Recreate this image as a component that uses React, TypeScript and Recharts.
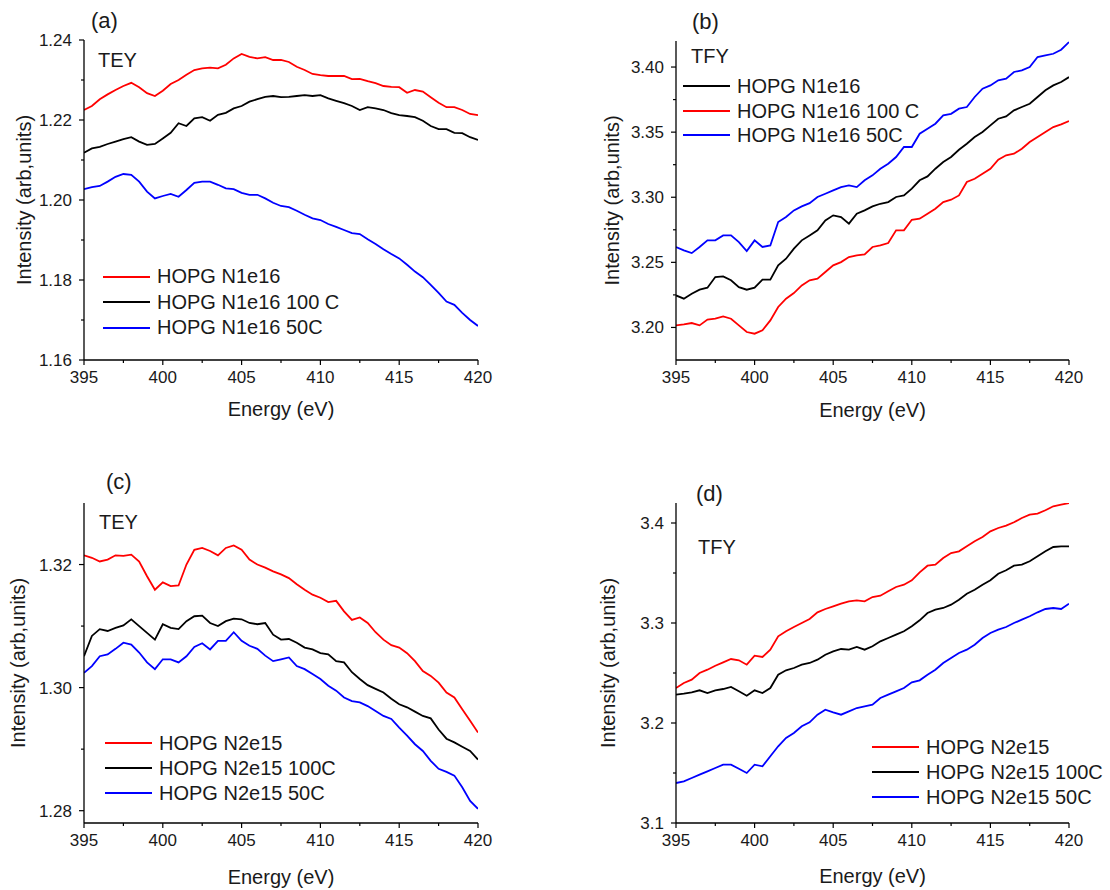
import React from 'react';
import { LineChart, Line, XAxis, YAxis, Legend } from 'recharts';

const ENERGY = [395, 395.5, 396, 396.5, 397, 397.5, 398, 398.5, 399, 399.5, 400, 400.5, 401, 401.5, 402, 402.5, 403, 403.5, 404, 404.5, 405, 405.5, 406, 406.5, 407, 407.5, 408, 408.5, 409, 409.5, 410, 410.5, 411, 411.5, 412, 412.5, 413, 413.5, 414, 414.5, 415, 415.5, 416, 416.5, 417, 417.5, 418, 418.5, 419, 419.5, 420];

const X_MAJOR = [395, 400, 405, 410, 415, 420];
const X_MINOR = [397.5, 402.5, 407.5, 412.5, 417.5];

// Panel (a) TEY, N1e16
const A_N1E16 = [1.2225, 1.2235, 1.2252, 1.2264, 1.2275, 1.2285, 1.2293, 1.2282, 1.2267, 1.226, 1.2273, 1.229, 1.23, 1.2313, 1.2325, 1.2329, 1.2331, 1.2329, 1.2338, 1.2354, 1.2365, 1.2358, 1.2354, 1.2357, 1.235, 1.235, 1.2345, 1.2333, 1.2325, 1.2315, 1.2312, 1.231, 1.231, 1.231, 1.2302, 1.2303, 1.2297, 1.2292, 1.2285, 1.2283, 1.2282, 1.2268, 1.2275, 1.2271, 1.2257, 1.2243, 1.2232, 1.2232, 1.2225, 1.2215, 1.2212];
const A_N1E16_100C = [1.2118, 1.2129, 1.2133, 1.214, 1.2146, 1.2152, 1.2157, 1.2146, 1.2138, 1.214, 1.2154, 1.2168, 1.2192, 1.2185, 1.2204, 1.2207, 1.2198, 1.2213, 1.2218, 1.2229, 1.2235, 1.2246, 1.2252, 1.2258, 1.226, 1.2257, 1.2258, 1.226, 1.2262, 1.226, 1.2262, 1.2254, 1.2248, 1.2242, 1.2235, 1.2225, 1.2232, 1.2229, 1.2225, 1.2217, 1.2212, 1.221, 1.2207, 1.2198, 1.2185, 1.2177, 1.2177, 1.2168, 1.2167, 1.2157, 1.215];
const A_N1E16_50C = [1.2027, 1.2032, 1.2035, 1.2046, 1.2058, 1.2065, 1.2063, 1.2046, 1.2021, 1.2004, 1.201, 1.2015, 1.2008, 1.2025, 1.2043, 1.2046, 1.2046, 1.2038, 1.2029, 1.2027, 1.2018, 1.2013, 1.2013, 1.2004, 1.1993, 1.1985, 1.1982, 1.1973, 1.1963, 1.1954, 1.195, 1.194, 1.1933, 1.1925, 1.1917, 1.1915, 1.1902, 1.189, 1.1877, 1.1865, 1.1854, 1.1838, 1.1821, 1.1807, 1.1788, 1.1768, 1.1746, 1.1738, 1.1718, 1.17, 1.1685];

// Panel (b) TFY, N1e16
const B_N1E16 = [3.2246, 3.2221, 3.2259, 3.229, 3.2305, 3.2387, 3.2392, 3.2362, 3.231, 3.229, 3.2305, 3.2367, 3.2367, 3.2477, 3.2528, 3.2605, 3.2669, 3.2707, 3.2746, 3.2822, 3.2861, 3.2848, 3.2797, 3.2874, 3.2899, 3.293, 3.295, 3.2963, 3.3002, 3.3014, 3.3066, 3.313, 3.316, 3.3219, 3.327, 3.3309, 3.3365, 3.3411, 3.3462, 3.3501, 3.3552, 3.3603, 3.3621, 3.3667, 3.3693, 3.3718, 3.377, 3.3821, 3.3859, 3.3885, 3.3923];
const B_N1E16_100C = [3.2016, 3.2024, 3.2034, 3.2016, 3.206, 3.2067, 3.2085, 3.2067, 3.2016, 3.1965, 3.1952, 3.1978, 3.2054, 3.2157, 3.2221, 3.2264, 3.2323, 3.2362, 3.2374, 3.2426, 3.2477, 3.2502, 3.2541, 3.2554, 3.2561, 3.2618, 3.263, 3.2648, 3.2746, 3.2746, 3.2827, 3.2835, 3.2874, 3.2912, 3.2963, 3.2981, 3.3014, 3.3117, 3.3142, 3.3181, 3.3219, 3.3288, 3.3322, 3.3334, 3.3373, 3.3424, 3.3462, 3.3501, 3.3539, 3.356, 3.3585];
const B_N1E16_50C = [3.2618, 3.2592, 3.2571, 3.2618, 3.2669, 3.2669, 3.2707, 3.2707, 3.2656, 3.2587, 3.2669, 3.2618, 3.263, 3.281, 3.2848, 3.2899, 3.293, 3.2955, 3.3002, 3.3027, 3.3053, 3.3078, 3.3091, 3.3078, 3.313, 3.3168, 3.3219, 3.3258, 3.3309, 3.3386, 3.3386, 3.3488, 3.3526, 3.3565, 3.3629, 3.3641, 3.368, 3.3693, 3.377, 3.3834, 3.3859, 3.3898, 3.3911, 3.3962, 3.3974, 3.4, 3.4077, 3.409, 3.4102, 3.4133, 3.4192];

// Panel (c) TEY, N2e15
const C_N2E15 = [1.3215, 1.3211, 1.3205, 1.3208, 1.3215, 1.3214, 1.3216, 1.3205, 1.3181, 1.3159, 1.3171, 1.3165, 1.3166, 1.32, 1.3224, 1.3227, 1.3222, 1.3215, 1.3227, 1.3231, 1.3224, 1.3208, 1.32, 1.3195, 1.3189, 1.3184, 1.3178, 1.3168, 1.3159, 1.3151, 1.3146, 1.3139, 1.3141, 1.3124, 1.311, 1.3114, 1.3105, 1.309, 1.3078, 1.3069, 1.3065, 1.3056, 1.3043, 1.3027, 1.3019, 1.3008, 1.2992, 1.2984, 1.2965, 1.2946, 1.2927];
const C_N2E15_100C = [1.3051, 1.3084, 1.3095, 1.3092, 1.3097, 1.3101, 1.3111, 1.31, 1.3089, 1.3078, 1.3103, 1.3097, 1.3095, 1.3108, 1.3116, 1.3117, 1.3105, 1.31, 1.3108, 1.3112, 1.3111, 1.3105, 1.3103, 1.3105, 1.3086, 1.3078, 1.3079, 1.3073, 1.3065, 1.3062, 1.3056, 1.3054, 1.3043, 1.3041, 1.3025, 1.3014, 1.3004, 1.2998, 1.2992, 1.2982, 1.2973, 1.2968, 1.2961, 1.2954, 1.295, 1.2932, 1.2917, 1.2911, 1.2904, 1.2897, 1.2883];
const C_N2E15_50C = [1.3024, 1.3035, 1.3051, 1.3054, 1.3063, 1.3073, 1.307, 1.3057, 1.3041, 1.303, 1.3046, 1.3046, 1.3041, 1.3051, 1.3066, 1.3072, 1.3062, 1.3076, 1.3076, 1.309, 1.3076, 1.3068, 1.3063, 1.3052, 1.3043, 1.3046, 1.3049, 1.3035, 1.303, 1.3022, 1.3014, 1.3003, 1.2995, 1.2984, 1.2978, 1.2976, 1.297, 1.2962, 1.2954, 1.2949, 1.2935, 1.2922, 1.2908, 1.2897, 1.2881, 1.2868, 1.2863, 1.2857, 1.2838, 1.2816, 1.2803];

// Panel (d) TFY, N2e15
const D_N2E15 = [3.235, 3.24, 3.2433, 3.25, 3.2533, 3.2573, 3.2607, 3.264, 3.2627, 3.2583, 3.2673, 3.266, 3.2733, 3.2867, 3.2917, 3.296, 3.3, 3.304, 3.3107, 3.314, 3.3167, 3.3193, 3.3217, 3.3227, 3.3217, 3.326, 3.3273, 3.3317, 3.336, 3.3383, 3.3427, 3.3507, 3.3573, 3.3583, 3.365, 3.37, 3.3717, 3.3767, 3.3817, 3.386, 3.3917, 3.395, 3.3973, 3.4007, 3.405, 3.4083, 3.4093, 3.4127, 3.4167, 3.4183, 3.42];
const D_N2E15_100C = [3.2283, 3.2293, 3.2307, 3.2327, 3.23, 3.2327, 3.234, 3.236, 3.2317, 3.2273, 3.2327, 3.23, 3.235, 3.2483, 3.2527, 3.255, 3.2583, 3.26, 3.2633, 3.2683, 3.2717, 3.274, 3.2733, 3.276, 3.2733, 3.2767, 3.2817, 3.285, 3.2883, 3.2917, 3.2967, 3.3027, 3.31, 3.3133, 3.315, 3.3183, 3.3233, 3.3293, 3.3333, 3.3383, 3.3427, 3.3493, 3.3527, 3.3573, 3.3583, 3.3617, 3.3667, 3.3717, 3.376, 3.3767, 3.3767];
const D_N2E15_50C = [3.14, 3.1417, 3.145, 3.1483, 3.1517, 3.155, 3.1583, 3.1583, 3.1543, 3.15, 3.1583, 3.1567, 3.1667, 3.1767, 3.185, 3.19, 3.1967, 3.2007, 3.2083, 3.2133, 3.2107, 3.2083, 3.2117, 3.215, 3.2167, 3.2183, 3.225, 3.2283, 3.2317, 3.235, 3.2407, 3.2427, 3.2483, 3.2533, 3.26, 3.265, 3.27, 3.2733, 3.2783, 3.285, 3.29, 3.2933, 3.296, 3.3, 3.3033, 3.3067, 3.3107, 3.314, 3.315, 3.314, 3.3193];

const RED = '#ff0000';
const BLACK = '#000000';
const BLUE = '#0000ff';
const FONT = '"Liberation Sans", Arial, Helvetica, sans-serif';
const TEXT = '#1a1a1a';

type Series = { key: string; name: string; color: string; values: number[] };

type Panel = {
  id: string;
  letter: string;
  letterX: number;
  letterY: number;
  tag: string;
  tagX: number;
  tagY: number;
  left: number;
  top: number;
  width: number;
  height: number;
  margin: { top: number; right: number; bottom: number; left: number };
  yAxisWidth: number;
  xAxisHeight: number;
  yDomain: [number, number];
  yMajor: number[];
  yMinor: number[];
  yDigits: number;
  series: Series[];
  legendX: number;
  legendY: number;
  legendRow: number;
};

const PANELS: Panel[] = [
  {
    id: 'a', letter: '(a)', letterX: 91, letterY: 28, tag: 'TEY', tagX: 98, tagY: 67,
    left: -36, top: 0, width: 591, height: 445,
    margin: { top: 40, right: 77, bottom: 29, left: 0 }, yAxisWidth: 120, xAxisHeight: 56,
    yDomain: [1.16, 1.24], yMajor: [1.16, 1.18, 1.2, 1.22, 1.24], yMinor: [1.17, 1.19, 1.21, 1.23], yDigits: 2,
    series: [
      { key: 's1', name: 'HOPG N1e16', color: RED, values: A_N1E16 },
      { key: 's2', name: 'HOPG N1e16 100 C', color: BLACK, values: A_N1E16_100C },
      { key: 's3', name: 'HOPG N1e16 50C', color: BLUE, values: A_N1E16_50C },
    ],
    legendX: 103, legendY: 264, legendRow: 25.5,
  },
  {
    id: 'b', letter: '(b)', letterX: 692, letterY: 29, tag: 'TFY', tagX: 691, tagY: 63,
    left: 548, top: 0, width: 562, height: 445,
    margin: { top: 41, right: 41, bottom: 28, left: 0 }, yAxisWidth: 128, xAxisHeight: 57,
    yDomain: [3.175, 3.42], yMajor: [3.2, 3.25, 3.3, 3.35, 3.4], yMinor: [3.225, 3.275, 3.325, 3.375], yDigits: 2,
    series: [
      { key: 's1', name: 'HOPG N1e16', color: BLACK, values: B_N1E16 },
      { key: 's2', name: 'HOPG N1e16 100 C', color: RED, values: B_N1E16_100C },
      { key: 's3', name: 'HOPG N1e16 50C', color: BLUE, values: B_N1E16_50C },
    ],
    legendX: 683, legendY: 74, legendRow: 24.5,
  },
  {
    id: 'c', letter: '(c)', letterX: 106, letterY: 489, tag: 'TEY', tagX: 99, tagY: 529,
    left: -49, top: 445, width: 604, height: 445,
    margin: { top: 58, right: 77, bottom: 6, left: 0 }, yAxisWidth: 133, xAxisHeight: 61,
    yDomain: [1.278, 1.33], yMajor: [1.28, 1.3, 1.32], yMinor: [1.29, 1.31], yDigits: 2,
    series: [
      { key: 's1', name: 'HOPG N2e15', color: RED, values: C_N2E15 },
      { key: 's2', name: 'HOPG N2e15 100C', color: BLACK, values: C_N2E15_100C },
      { key: 's3', name: 'HOPG N2e15 50C', color: BLUE, values: C_N2E15_50C },
    ],
    legendX: 105, legendY: 730.5, legendRow: 25,
  },
  {
    id: 'd', letter: '(d)', letterX: 696, letterY: 501, tag: 'TFY', tagX: 698, tagY: 554,
    left: 540, top: 445, width: 570, height: 445,
    margin: { top: 58, right: 41, bottom: 7, left: 0 }, yAxisWidth: 136, xAxisHeight: 60,
    yDomain: [3.1, 3.42], yMajor: [3.1, 3.2, 3.3, 3.4], yMinor: [3.15, 3.25, 3.35], yDigits: 1,
    series: [
      { key: 's1', name: 'HOPG N2e15', color: RED, values: D_N2E15 },
      { key: 's2', name: 'HOPG N2e15 100C', color: BLACK, values: D_N2E15_100C },
      { key: 's3', name: 'HOPG N2e15 50C', color: BLUE, values: D_N2E15_50C },
    ],
    legendX: 872, legendY: 734.5, legendRow: 25,
  },
];

const X_TICK_SIZE = 5;
const X_TICK_MARGIN = 6;
const Y_TICK_SIZE = 5;
const Y_TICK_MARGIN = 7;

const isIn = (arr: number[], v: number) => arr.some((m) => Math.abs(m - v) < 1e-9);

const makeXTick = () => (props: any) => {
  const { x, y, payload } = props;
  const v = payload.value as number;
  const major = isIn(X_MAJOR, v);
  const ay = y - X_TICK_SIZE - X_TICK_MARGIN;
  return (
    <g>
      <line x1={x} x2={x} y1={ay} y2={ay + (major ? 5 : 3)} stroke="#000" strokeWidth={1.2} />
      {major && (
        <text x={x} y={y} dy={12} textAnchor="middle" fontSize={17} fill={TEXT} fontFamily={FONT}>
          {String(v)}
        </text>
      )}
    </g>
  );
};

const makeYTick = (majors: number[], digits: number) => (props: any) => {
  const { x, y, payload } = props;
  const v = payload.value as number;
  const major = isIn(majors, v);
  const ax = x + Y_TICK_SIZE + Y_TICK_MARGIN;
  return (
    <g>
      <line x1={ax} x2={ax - (major ? 5 : 3)} y1={y} y2={y} stroke="#000" strokeWidth={1.2} />
      {major && (
        <text x={x} y={y} dy={6} textAnchor="end" fontSize={17} fill={TEXT} fontFamily={FONT}>
          {v.toFixed(digits)}
        </text>
      )}
    </g>
  );
};

const LegendBox = ({ series, rowH }: { series: Series[]; rowH: number }) => (
  <div style={{ fontFamily: FONT, fontSize: 20, color: TEXT, whiteSpace: 'nowrap' }}>
    {series.map((s) => (
      <div key={s.key} style={{ display: 'flex', alignItems: 'center', height: rowH }}>
        <div style={{ width: 47, height: 2, background: s.color, marginRight: 7 }} />
        <span style={{ lineHeight: `${rowH}px` }}>{s.name}</span>
      </div>
    ))}
  </div>
);

const PanelChart = ({ p }: { p: Panel }) => {
  const data = ENERGY.map((e, i) => {
    const row: Record<string, number> = { energy: e };
    p.series.forEach((s) => {
      row[s.key] = s.values[i];
    });
    return row;
  });
  const yTicks = [...p.yMajor, ...p.yMinor].sort((a, b) => a - b);
  const xTicks = [...X_MAJOR, ...X_MINOR].sort((a, b) => a - b);
  return (
    <div style={{ position: 'absolute', left: p.left, top: p.top, width: p.width, height: p.height }}>
      <LineChart width={p.width} height={p.height} data={data} margin={p.margin}>
        <XAxis
          dataKey="energy"
          type="number"
          domain={[395, 420]}
          ticks={xTicks}
          interval={0}
          allowDataOverflow
          height={p.xAxisHeight}
          tickSize={X_TICK_SIZE}
          tickMargin={X_TICK_MARGIN}
          tickLine={false}
          axisLine={{ stroke: '#000', strokeWidth: 1.3 }}
          tick={makeXTick()}
          label={{ value: 'Energy (eV)', position: 'insideBottom', offset: 0, fontSize: 20, fill: TEXT, fontFamily: FONT }}
        />
        <YAxis
          type="number"
          domain={p.yDomain}
          ticks={yTicks}
          interval={0}
          allowDataOverflow
          width={p.yAxisWidth}
          tickSize={Y_TICK_SIZE}
          tickMargin={Y_TICK_MARGIN}
          tickLine={false}
          axisLine={{ stroke: '#000', strokeWidth: 1.3 }}
          tick={makeYTick(p.yMajor, p.yDigits)}
          label={{ value: 'Intensity (arb,units)', angle: -90, position: 'center', fontSize: 20, fill: TEXT, fontFamily: FONT }}
        />
        <Legend
          layout="vertical"
          align="center"
          verticalAlign="middle"
          wrapperStyle={{ left: p.legendX - p.left, top: p.legendY - p.top, width: 'auto', height: 'auto' }}
          content={() => <LegendBox series={p.series} rowH={p.legendRow} />}
        />
        {p.series.map((s) => (
          <Line
            key={s.key}
            dataKey={s.key}
            name={s.name}
            type="linear"
            stroke={s.color}
            strokeWidth={1.8}
            dot={false}
            activeDot={false}
            isAnimationActive={false}
          />
        ))}
      </LineChart>
    </div>
  );
};

export default function App() {
  return (
    <div
      style={{
        position: 'absolute',
        left: 0,
        top: 0,
        width: 1110,
        height: 890,
        overflow: 'hidden',
        background: '#ffffff',
        fontFamily: FONT,
      }}
    >
      {PANELS.map((p) => (
        <PanelChart key={p.id} p={p} />
      ))}
      <svg
        width={1110}
        height={890}
        style={{ position: 'absolute', left: 0, top: 0, pointerEvents: 'none' }}
      >
        {PANELS.map((p) => (
          <g key={p.id}>
            <text x={p.letterX} y={p.letterY} fontSize={22} fill={TEXT} fontFamily={FONT}>
              {p.letter}
            </text>
            <text x={p.tagX} y={p.tagY} fontSize={20} fill={TEXT} fontFamily={FONT}>
              {p.tag}
            </text>
          </g>
        ))}
      </svg>
    </div>
  );
}
